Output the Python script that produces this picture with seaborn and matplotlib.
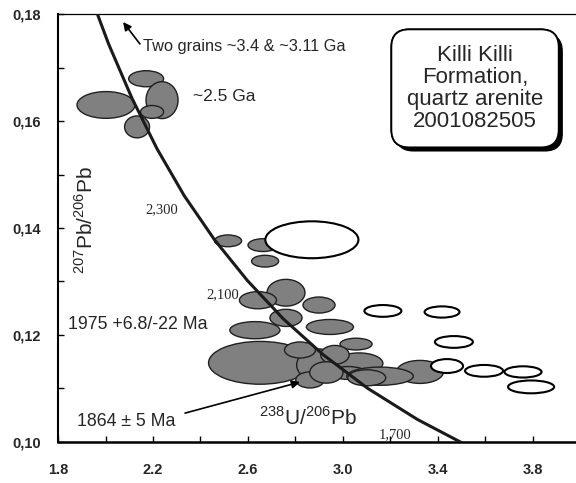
import numpy as np
import pandas as pd
import matplotlib
matplotlib.use("Agg")
import matplotlib.pyplot as plt
import matplotlib.patheffects as pe
from matplotlib.patches import Ellipse
import seaborn as sns

# ---- data ----
# concordia curve points (238U/206Pb, 207Pb/206Pb)
conc_x = [1.922, 2.013, 2.111, 2.217, 2.332, 2.459, 2.597, 2.749, 2.917, 3.105, 3.314, 3.550]
conc_y = [0.1852, 0.1744, 0.1643, 0.1548, 0.1460, 0.1378, 0.1302, 0.1230, 0.1163, 0.1100, 0.1042, 0.0987]

# filled (concordant) error ellipses: centre x, centre y, full width, full height
filled_x = [2.002, 2.171, 2.238, 2.196, 2.133, 2.516, 2.663, 2.672, 2.760, 2.642,
            2.899, 2.760, 2.629, 2.945, 3.055, 2.651, 2.895, 3.067, 3.021, 3.324,
            3.156, 2.819, 2.966, 2.861, 2.930, 3.100]
filled_y = [0.1630, 0.1679, 0.1639, 0.1617, 0.1589, 0.1376, 0.1368, 0.1338, 0.1279, 0.1265,
            0.1256, 0.1232, 0.1209, 0.1215, 0.1183, 0.1148, 0.1144, 0.1147, 0.1129, 0.1131,
            0.1123, 0.1172, 0.1163, 0.1116, 0.1130, 0.1120]
filled_w = [0.244, 0.147, 0.135, 0.097, 0.105, 0.114, 0.126, 0.114, 0.160, 0.156,
            0.135, 0.135, 0.211, 0.198, 0.135, 0.434, 0.180, 0.202, 0.156, 0.198,
            0.280, 0.130, 0.120, 0.120, 0.140, 0.160]
filled_h = [0.0050, 0.0030, 0.0069, 0.0024, 0.0041, 0.0022, 0.0024, 0.0022, 0.0050, 0.0032,
            0.0030, 0.0032, 0.0032, 0.0028, 0.0022, 0.0080, 0.0060, 0.0039, 0.0024, 0.0043,
            0.0034, 0.0030, 0.0035, 0.0030, 0.0040, 0.0030]

# open (discordant / excluded) ellipses
open_x = [2.869, 3.168, 3.417, 3.467, 3.438, 3.594, 3.758, 3.792]
open_y = [0.1378, 0.1245, 0.1243, 0.1187, 0.1142, 0.1133, 0.1131, 0.1103]
open_w = [0.392, 0.156, 0.147, 0.160, 0.135, 0.160, 0.156, 0.194]
open_h = [0.0069, 0.0022, 0.0021, 0.0022, 0.0026, 0.0022, 0.0021, 0.0024]

x_ticks = [1.8, 2.2, 2.6, 3.0, 3.4, 3.8]
x_ticklabels = ["1.8", "2.2", "2.6", "3.0", "3.4", "3.8"]
y_ticks = [0.10, 0.12, 0.14, 0.16, 0.18]
y_ticklabels = ["0,10", "0,12", "0,14", "0,16", "0,18"]

age_labels = ["2,300", "2,100", "1,700"]
age_label_x = [2.238, 2.495, 3.219]
age_label_y = [0.1434, 0.1275, 0.1013]

# ---- plotting ----
sns.set_theme(style="white")
plt.rcParams["font.family"] = ["Liberation Sans", "DejaVu Sans"]
plt.rcParams["mathtext.fontset"] = "custom"
plt.rcParams["mathtext.rm"] = "Liberation Sans"

fig = plt.figure(figsize=(5.76, 4.83), dpi=100)
ax = fig.add_axes([0.1007, 0.0849, 0.8976, 0.8861])
ax.set_xlim(1.8, 3.977)
ax.set_ylim(0.10, 0.18)

for x, y, w, h in zip(filled_x, filled_y, filled_w, filled_h):
    ax.add_patch(Ellipse((x, y), w, h, facecolor="#808080", edgecolor="#202020",
                         lw=1.0, zorder=2))
for x, y, w, h in zip(open_x, open_y, open_w, open_h):
    ax.add_patch(Ellipse((x, y), w, h, facecolor="white", edgecolor="black",
                         lw=1.5, zorder=2))

conc = pd.DataFrame({"x": conc_x, "y": conc_y})
sns.lineplot(data=conc, x="x", y="y", sort=False, color="#1a1a1a", lw=2.2,
             ax=ax, zorder=3)

for t, x, y in zip(age_labels, age_label_x, age_label_y):
    ax.text(x, y, t, family=["Liberation Serif"], fontsize=10.5,
            ha="center", va="center", zorder=4)

ax.text(2.158, 0.1740, "Two grains ~3.4 & ~3.11 Ga", fontsize=11.8,
        ha="left", va="center")
ax.annotate("", xy=(2.074, 0.1785), xytext=(2.145, 0.1744),
            arrowprops=dict(arrowstyle="-|>", color="black", lw=1.2,
                            mutation_scale=12, shrinkA=0, shrinkB=0))
ax.text(2.368, 0.1645, "~2.5 Ga", fontsize=12.5, ha="left", va="center")
ax.text(1.842, 0.1219, "1975 +6.8/-22 Ma", fontsize=12.8, ha="left", va="center")
ax.text(1.880, 0.1039, "1864 \u00b1 5 Ma", fontsize=12.8, ha="left", va="center")
ax.annotate("", xy=(2.819, 0.1112), xytext=(2.335, 0.1054),
            arrowprops=dict(arrowstyle="-|>", color="black", lw=1.2,
                            mutation_scale=12, shrinkA=0, shrinkB=0),
            zorder=5)

ax.text(2.853, 0.1045, r"$^{238}$U/$^{206}$Pb", fontsize=15,
        ha="center", va="center", zorder=5)
ax.text(1.914, 0.1415, r"$^{207}$Pb/$^{206}$Pb", fontsize=15, rotation=90,
        ha="center", va="center")

box = ax.text(3.556, 0.1661, "Killi Killi\nFormation,\nquartz arenite\n2001082505",
              fontsize=16, ha="center", va="center", linespacing=1.06, zorder=6,
              bbox=dict(boxstyle="round,pad=0.7,rounding_size=0.8",
                        fc="white", ec="black", lw=1.3))
box.get_bbox_patch().set_path_effects([
    pe.withSimplePatchShadow(offset=(3, -3), shadow_rgbFace="black", alpha=1.0),
    pe.Normal()])

ax.set_xticks(x_ticks)
ax.set_xticklabels(x_ticklabels, fontsize=10.5, fontweight="bold")
ax.set_xticks([2.0, 2.4, 2.8, 3.2, 3.6], minor=True)
ax.set_yticks(y_ticks)
ax.set_yticklabels(y_ticklabels, fontsize=10.5, fontweight="bold")
ax.set_yticks([0.11, 0.13, 0.15, 0.17], minor=True)
ax.tick_params(axis="both", which="both", direction="in", length=4, width=1,
               color="black", bottom=True, left=True, top=False, right=False)
ax.tick_params(axis="x", which="major", pad=15)
ax.tick_params(axis="y", which="major", pad=12)
ax.set_xlabel("")
ax.set_ylabel("")

ax.spines["left"].set_linewidth(1.5)
ax.spines["bottom"].set_linewidth(1.8)
ax.spines["top"].set_linewidth(0.9)
ax.spines["right"].set_visible(False)
for s in ax.spines.values():
    s.set_color("black")

fig.savefig("out.png", dpi=100)
